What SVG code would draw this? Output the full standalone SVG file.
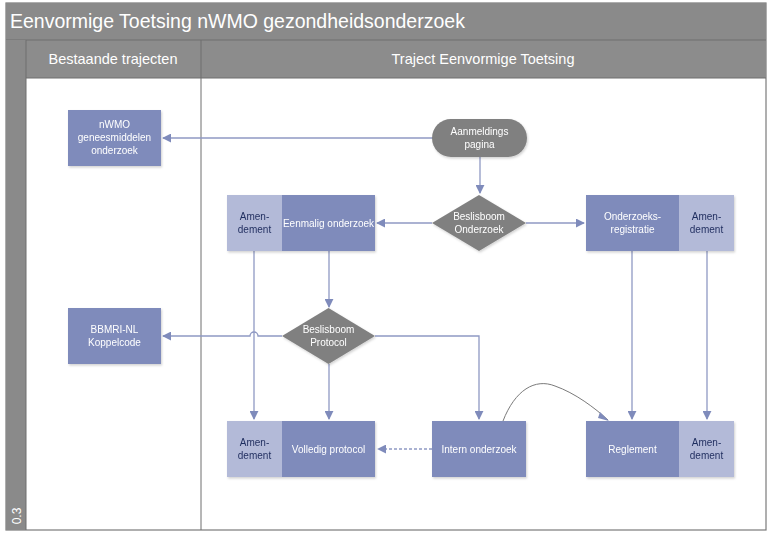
<svg xmlns="http://www.w3.org/2000/svg" width="772" height="538" viewBox="0 0 772 538">
<style>
text{font-family:"Liberation Sans",Arial,sans-serif}
.t{fill:#fff;font-size:10px;text-anchor:middle}
.a{fill:#1f2d5e;font-size:10px;text-anchor:middle}
.dk{fill:#7f8bbb}
.lt{fill:#b3bad8}
.gr{fill:#808080}
.c{fill:none;stroke:#8f99c3;stroke-width:1.3}
.h{fill:#fff;font-size:14.5px;text-anchor:middle}
</style>
<defs>
<marker id="ar" viewBox="0 0 10 10" refX="9" refY="5" markerWidth="9" markerHeight="9" markerUnits="userSpaceOnUse" orient="auto">
<path d="M0,0 L10,5 L0,10 Z" fill="#7f8bbb"/>
</marker>
<filter id="sh" x="-10%" y="-10%" width="130%" height="130%">
<feDropShadow dx="1" dy="1.5" stdDeviation="1" flood-color="#000" flood-opacity="0.18"/>
</filter>
</defs>
<rect x="0" y="0" width="772" height="538" fill="#fff"/>
<g id="frame">
<rect x="6" y="3" width="760" height="527" fill="#fff" stroke="#7a7a7a" stroke-width="1.2"/>
<rect x="6" y="3" width="760" height="37" fill="#8a8a8a"/>
<rect x="6" y="40" width="760" height="38" fill="#8c8c8c"/>
<line x1="6" y1="40" x2="766" y2="40" stroke="#6e6e6e" stroke-width="1"/>
<rect x="6" y="40" width="20" height="490" fill="#8a8a8a"/>
<line x1="26" y1="40" x2="26" y2="530" stroke="#6e6e6e" stroke-width="1"/>
<line x1="201" y1="40" x2="201" y2="530" stroke="#6e6e6e" stroke-width="1"/>
<line x1="26" y1="78" x2="766" y2="78" stroke="#6e6e6e" stroke-width="1"/>
<text x="10" y="28" fill="#fff" font-size="19.5">Eenvormige Toetsing nWMO gezondheidsonderzoek</text>
<text class="h" x="113" y="64">Bestaande trajecten</text>
<text class="h" x="483" y="64">Traject Eenvormige Toetsing</text>
<text x="21" y="516" fill="#fff" font-size="12" transform="rotate(-90 21 516)" text-anchor="middle">0.3</text>
</g>
<g id="connectors">
<path class="c" d="M433,138 H163" marker-end="url(#ar)"/>
<path class="c" d="M480,157 V193" marker-end="url(#ar)"/>
<path class="c" d="M432,223 H377" marker-end="url(#ar)"/>
<path class="c" d="M526,223 H584" marker-end="url(#ar)"/>
<path class="c" d="M329,251 V307" marker-end="url(#ar)"/>
<path class="c" d="M282,336 H258 A4,4 0 0 0 250,336 H163" marker-end="url(#ar)"/>
<path class="c" d="M375,336 H479 V419" marker-end="url(#ar)"/>
<path class="c" d="M254,251 V419" marker-end="url(#ar)"/>
<path class="c" d="M329,364 V419" marker-end="url(#ar)"/>
<path class="c" d="M432,449 H378" stroke-dasharray="3,2" marker-end="url(#ar)"/>
<path d="M503,421 C515,390 535,378 555,386 C575,393 595,408 608,420" fill="none" stroke="#7a7a7a" stroke-width="1"/>
<path d="M600,412 L609,421 L598,418 Z" fill="#7f8bbb"/>
<path class="c" d="M632,251 V419" marker-end="url(#ar)"/>
<path class="c" d="M707,251 V419" marker-end="url(#ar)"/>
</g>
<g id="nwmo" filter="url(#sh)">
<rect class="dk" x="68" y="110" width="93" height="56"/>
<text class="t" x="114.5" y="128">nWMO</text>
<text class="t" x="114.5" y="141">geneesmiddelen</text>
<text class="t" x="114.5" y="154">onderzoek</text>
</g>
<g id="bbmri" filter="url(#sh)">
<rect class="dk" x="68" y="308" width="93" height="56"/>
<text class="t" x="114.5" y="333">BBMRI-NL</text>
<text class="t" x="114.5" y="346">Koppelcode</text>
</g>
<g id="aanmelding" filter="url(#sh)">
<rect class="gr" x="432" y="119" width="95" height="38" rx="19"/>
<text class="t" x="479.5" y="135">Aanmeldings</text>
<text class="t" x="479.5" y="148">pagina</text>
</g>
<g id="beslisboom-onderzoek" filter="url(#sh)">
<path class="gr" d="M479,195 L526,223 L479,251 L432,223 Z"/>
<text class="t" x="479" y="220">Beslisboom</text>
<text class="t" x="479" y="233">Onderzoek</text>
</g>
<g id="eenmalig" filter="url(#sh)">
<rect class="lt" x="227" y="195" width="55" height="56"/>
<rect class="dk" x="282" y="195" width="93" height="56"/>
<text class="a" x="254.5" y="220">Amen-</text>
<text class="a" x="254.5" y="233">dement</text>
<text class="t" x="328.5" y="226.5">Eenmalig onderzoek</text>
</g>
<g id="onderzoeksregistratie" filter="url(#sh)">
<rect class="dk" x="586" y="195" width="93" height="56"/>
<rect class="lt" x="679" y="195" width="55" height="56"/>
<text class="t" x="632.5" y="220">Onderzoeks-</text>
<text class="t" x="632.5" y="233">registratie</text>
<text class="a" x="706.5" y="220">Amen-</text>
<text class="a" x="706.5" y="233">dement</text>
</g>
<g id="beslisboom-protocol" filter="url(#sh)">
<path class="gr" d="M328.5,308 L375,336 L328.5,364 L282,336 Z"/>
<text class="t" x="328.5" y="333">Beslisboom</text>
<text class="t" x="328.5" y="346">Protocol</text>
</g>
<g id="volledig" filter="url(#sh)">
<rect class="lt" x="227" y="421" width="55" height="56"/>
<rect class="dk" x="282" y="421" width="93" height="56"/>
<text class="a" x="254.5" y="446">Amen-</text>
<text class="a" x="254.5" y="459">dement</text>
<text class="t" x="328.5" y="452.5">Volledig protocol</text>
</g>
<g id="intern" filter="url(#sh)">
<rect class="dk" x="432" y="421" width="94" height="56"/>
<text class="t" x="479" y="452.5">Intern onderzoek</text>
</g>
<g id="reglement" filter="url(#sh)">
<rect class="dk" x="586" y="421" width="93" height="56"/>
<rect class="lt" x="679" y="421" width="55" height="56"/>
<text class="t" x="632.5" y="452.5">Reglement</text>
<text class="a" x="706.5" y="446">Amen-</text>
<text class="a" x="706.5" y="459">dement</text>
</g>
</svg>
